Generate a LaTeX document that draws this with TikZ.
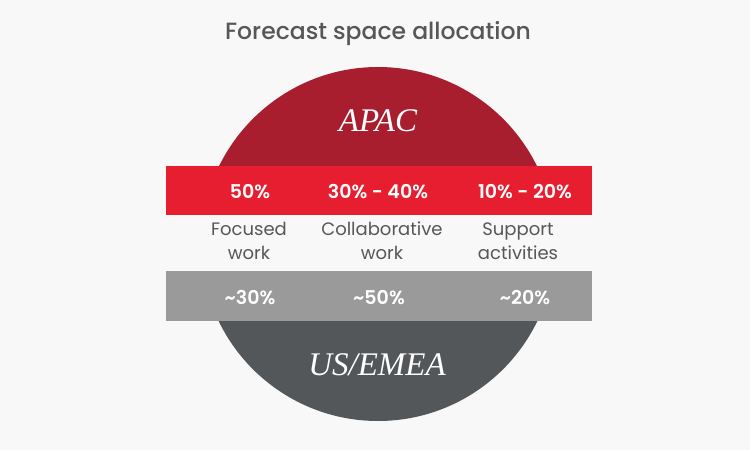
\documentclass[tikz,border=0pt]{standalone}
\usepackage{fontspec}
\setmainfont{Poppins}
\newfontfamily\popmed{Poppins Medium}
\newfontfamily\popsemi{Poppins SemiBold}
\newfontfamily\serifit{Liberation Serif}
\definecolor{bgc}{HTML}{F9F8F8}
\definecolor{apac}{HTML}{A81E2E}
\definecolor{redband}{HTML}{E61E2F}
\definecolor{grayband}{HTML}{9A9A9A}
\definecolor{usemea}{HTML}{54575A}
\definecolor{txtgray}{HTML}{555759}
\tikzset{
  pct/.style={text=white, font=\fontsize{19}{22}\selectfont\popsemi, anchor=center, inner sep=0pt},
  lbl/.style={text=txtgray, font=\fontsize{18}{24}\selectfont, align=center, anchor=center, inner sep=0pt},
  region/.style={text=white, font=\fontsize{33}{36}\selectfont\serifit\itshape, anchor=center, inner sep=0pt},
}
\begin{document}
\begin{tikzpicture}[x=1pt,y=-1pt]
\fill[bgc] (0,0) rectangle (750,450);
\useasboundingbox (0,0) rectangle (750,450);
\begin{scope}
  \clip (0,0) rectangle (750,166);
  \fill[apac] (378,244) circle (177);
\end{scope}
\begin{scope}
  \clip (0,321) rectangle (750,450);
  \fill[usemea] (378,244) circle (177);
\end{scope}
\fill[redband] (166,166) rectangle (592,215);
\fill[grayband] (166,271) rectangle (592,321);
\node[text=txtgray, font=\fontsize{23.5}{26}\selectfont\popmed, inner sep=0pt] (title) at (378,34) {Forecast space allocation};
\node[region] (apac) at (378,121) {APAC};
\node[region] (us) at (377,365) {US/EMEA};
\node[pct] (a1) at (250,192) {50\%};
\node[pct] (a2) at (378,192) {30\% - 40\%};
\node[pct] (a3) at (525,192) {10\% - 20\%};
\node[lbl] (l1) at (249,241) {Focused\\work};
\node[lbl] (l2) at (382,241) {Collaborative\\work};
\node[lbl] (l3) at (518,241) {Support\\activities};
\node[pct] (u1) at (250,298) {\textasciitilde30\%};
\node[pct] (u2) at (379,298) {\textasciitilde50\%};
\node[pct] (u3) at (525,298) {\textasciitilde20\%};
\end{tikzpicture}
\end{document}
